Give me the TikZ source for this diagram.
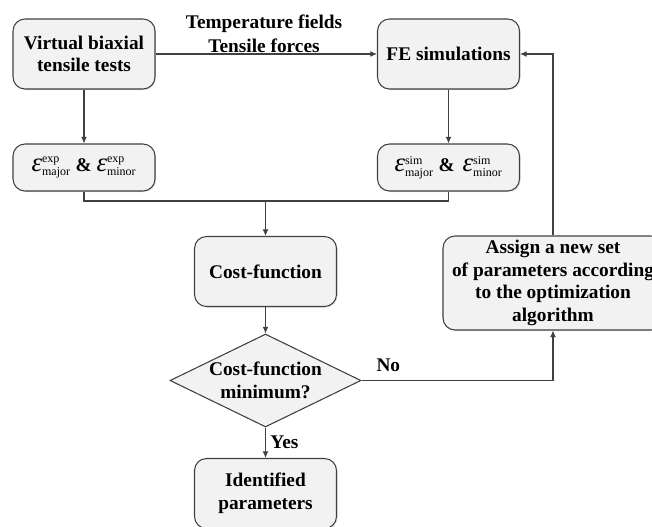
\documentclass[tikz,border=0pt]{standalone}
\usepackage{amsmath}
\usepackage{fontspec}
\setmainfont{Liberation Serif}
\usetikzlibrary{arrows.meta,shapes.geometric,shadows}

\definecolor{boxfill}{HTML}{F2F2F2}
\definecolor{linegray}{HTML}{404040}

\newcommand{\strain}[2]{$\text{\normalfont\itshape\fontsize{20}{20}\selectfont ε}^{\text{\normalfont\fontsize{9}{9}\selectfont #1}}_{\text{\normalfont\fontsize{9}{9}\selectfont #2}}$}

\begin{document}
\begin{tikzpicture}[x=0.75pt,y=-0.75pt,
    font=\bfseries\fontsize{14.5}{17}\selectfont,
    box/.style={draw=linegray,line width=0.8pt,fill=boxfill,rounded corners=9pt,
        align=center,minimum width=106.5pt,minimum height=52.5pt,inner sep=2pt,
        drop shadow={shadow xshift=0.8pt,shadow yshift=-0.8pt,opacity=0.25}},
    strainbox/.style={box,minimum height=35.25pt},
    decision/.style={draw=linegray,line width=0.8pt,fill=boxfill,shape=diamond,
        minimum width=143.25pt,minimum height=69.75pt,inner sep=0pt},
    line/.style={draw=linegray,line width=0.8pt},
    arrow/.style={line,-{Latex[length=5pt,width=4.5pt]}}]
                \useasboundingbox (0,0) rectangle (652,527);
                \node[box](vb) at (84,54) {Virtual biaxial\\tensile tests};
                \node[box](fe) at (448.5,54) {FE simulations};
                \node[strainbox](epsexp) at (84,167.5) {\strain{exp}{major} \& \strain{exp}{minor}};
                \node[strainbox](epssim) at (448.5,167.5) {\strain{sim}{major} \&\, \strain{sim}{minor}};
                \node[box](cost) at (265.5,271.5) {Cost-function};
                \node[decision](dec) at (265.5,380.5) {};
                \node[align=center,inner sep=0pt](dectext) at (dec) {Cost-function\\minimum?};
                \node[box](ident) at (265.5,493.5) {Identified\\parameters};
                \node[box,minimum width=165pt,minimum height=70.5pt](assign) at (553,283)
                    {Assign a new set\\of parameters according\\to the optimization\\algorithm};
                \node[align=center,font=\bfseries\fontsize{14.5}{18}\selectfont](inputs) at (264,34)
                    {Temperature fields\\Tensile forces};
                \coordinate (merge) at (265.5,201);
                \draw[arrow](vb)--(fe);
                \draw[arrow](vb)--(epsexp);
                \draw[arrow](fe)--(epssim);
                \draw[line](epsexp.south)|-(merge)-|(epssim.south);
                \draw[arrow](merge)--(cost);
                \draw[arrow](cost)--(dec);
                \draw[arrow](dec)--node[right]{Yes}(ident);
                \draw[arrow](dec.east)-|node[pos=0.07,above=3pt]{No}(assign.south);
                \draw[arrow](assign.north)|-(fe.east);
            \end{tikzpicture}
\end{document}
